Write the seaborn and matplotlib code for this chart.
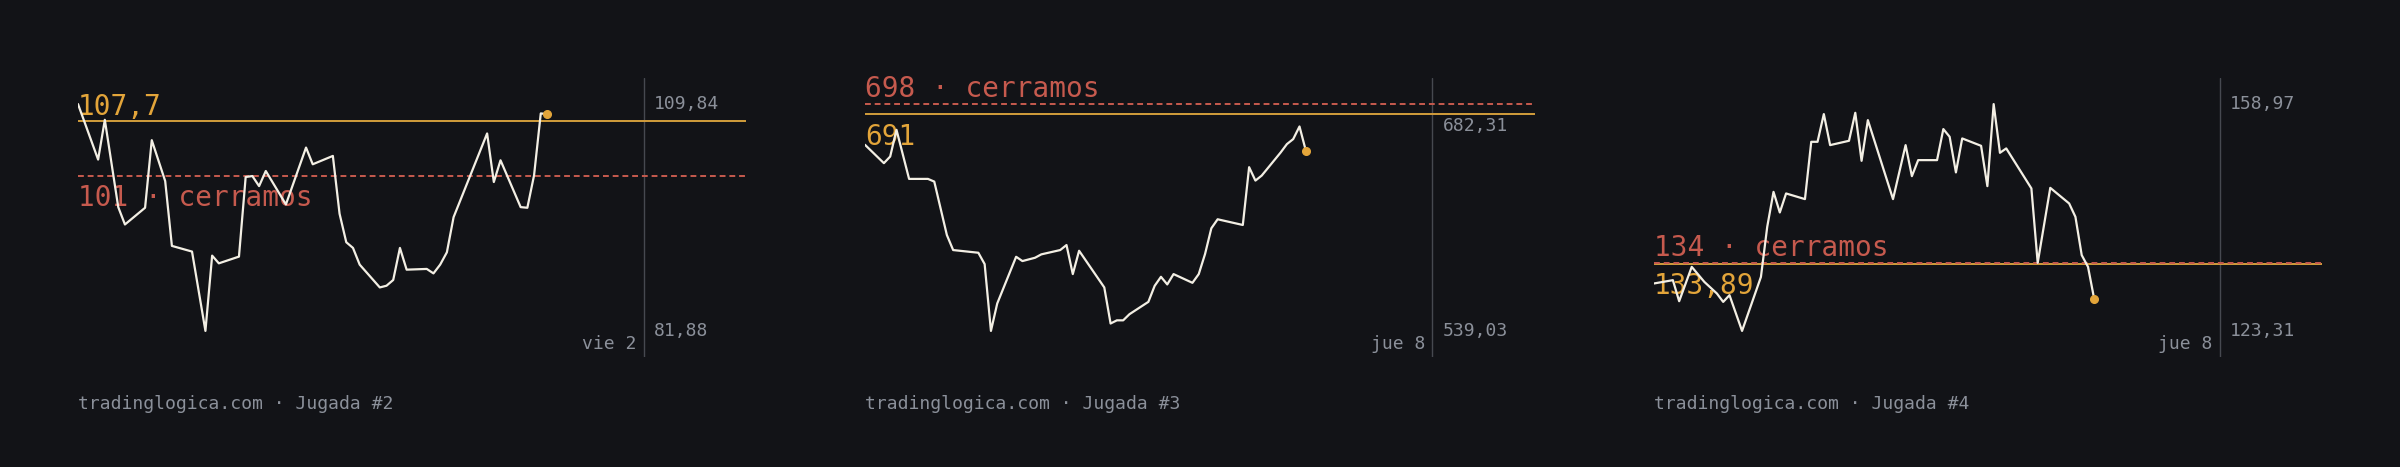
import seaborn as sns
import matplotlib.pyplot as plt
from matplotlib.transforms import blended_transform_factory

# --- data (session index, price) ---
j2_x = [0, 3, 4, 6, 7, 10, 11, 13, 14, 17, 19, 20, 21, 24, 25, 26, 27, 28, 31, 34,
        35, 38, 39, 40, 41, 42, 45, 46, 47, 48, 49, 52, 53, 54, 55, 56, 61, 62, 63, 66,
        67, 68, 69, 70]
j2_y = [109.84, 103.0, 107.9, 97.14, 95.0, 97.06, 105.39, 100.35, 92.36, 91.66,
        81.88, 91.16, 90.21, 91.04, 100.85, 100.97, 99.73, 101.59, 97.47, 104.48,
        102.42, 103.45, 96.32, 92.81, 92.11, 90.05, 87.24, 87.45, 88.16, 92.11,
        89.43, 89.52, 88.97, 90.05, 91.57, 95.90, 106.22, 100.23, 102.91, 97.14,
        97.06, 101.06, 108.69, 108.60]

j3_x = [0, 3, 4, 5, 7, 10, 11, 13, 14, 18, 19, 20, 21, 24, 25, 27, 28, 31, 32, 33,
        34, 38, 39, 40, 41, 42, 45, 46, 47, 48, 49, 52, 53, 54, 55, 56, 60, 61, 62, 63,
        66, 67, 68, 69, 70]
j3_y = [669.46, 656.60, 661.24, 679.99, 645.57, 645.57, 643.68, 606.24, 595.70, 593.81,
        585.87, 539.03, 558.27, 590.99, 587.98, 590.30, 592.68, 595.70, 599.22, 578.85,
        595.21, 569.50, 544.22, 546.44, 546.44, 550.75, 559.39, 570.63, 576.95, 571.61,
        578.85, 572.74, 578.85, 592.90, 610.95, 617.27, 613.27, 653.79, 644.38, 647.89,
        664.05, 669.95, 673.46, 682.31, 665.45]

j4_x = [0, 3, 4, 6, 8, 10, 11, 12, 14, 17, 18, 19, 20, 21, 24, 25, 26, 27, 28, 31,
        32, 33, 34, 38, 40, 41, 42, 45, 46, 47, 48, 49, 52, 53, 54, 55, 56, 60, 61, 63,
        66, 67, 68, 69, 70]
j4_y = [130.77, 131.29, 127.98, 133.38, 131.02, 129.19, 127.87, 128.93, 123.31, 131.80,
        139.67, 145.17, 141.93, 144.92, 144.03, 153.04, 153.04, 157.40, 152.52, 153.20,
        157.60, 150.05, 156.45, 144.03, 152.52, 147.64, 150.16, 150.16, 155.04, 153.83,
        148.23, 153.57, 152.41, 146.07, 158.97, 151.31, 152.00, 145.71, 134.01, 145.80,
        143.35, 141.24, 135.22, 133.38, 128.25]

entry_levels = [107.7, 691, 133.89]      # orange line
close_levels = [101, 698, 134]           # red dashed line, "cerramos"
date_labels = ['vie 2', 'jue 8', 'jue 8']
footers = ['tradinglogica.com · Jugada #2',
           'tradinglogica.com · Jugada #3',
           'tradinglogica.com · Jugada #4']

# --- layout (pixels on a 2400x467 canvas) ---
lefts = [78, 865, 1654]
widths = [668, 670, 668]
spans = [99.6, 106.4, 106.2]
W, H = 2400, 467
TOP, BOTTOM = 78, 357

BG = '#121317'
WHITE = '#f3efe4'
ORANGE = '#e3a53a'
ORANGE_LINE = '#d29d3c'
RED = '#c65a4e'
GRAY = '#8b909a'
VLINE = '#464950'

sns.set_theme(style='dark', rc={'figure.facecolor': BG, 'axes.facecolor': BG})
plt.rcParams['font.family'] = ['DejaVu Sans Mono', 'DejaVu Sans']


def fmt(v):
    return f'{v:g}'.replace('.', ',')


fig = plt.figure(figsize=(24, 4.67), dpi=100)
series = [(j2_x, j2_y), (j3_x, j3_y), (j4_x, j4_y)]

for i, (xs, ys) in enumerate(series):
    ax = fig.add_axes([lefts[i] / W, 1 - BOTTOM / H, widths[i] / W, (BOTTOM - TOP) / H])
    ax.set_facecolor(BG)
    entry, close = entry_levels[i], close_levels[i]
    lo = min(min(ys), entry, close)
    hi = max(max(ys), entry, close)
    pad = (hi - lo) * 0.115
    ax.set_ylim(lo - pad, hi + pad)
    ax.set_xlim(0, spans[i])

    ax.axhline(entry, color=ORANGE_LINE, lw=1.4, zorder=2)
    ax.axhline(close, color=RED, lw=1.4, ls=(0, (3, 2)), zorder=3)
    vx = spans[i] * 0.847
    ax.axvline(vx, color=VLINE, lw=1, zorder=1)

    sns.lineplot(x=xs, y=ys, ax=ax, color=WHITE, lw=1.6, zorder=5)
    ax.plot(xs[-1], ys[-1], 'o', color=ORANGE, ms=5.5, zorder=6)

    trans = blended_transform_factory(ax.transAxes, ax.transData)
    # level labels: upper line gets its label above, lower line below
    entry_txt = fmt(entry)
    close_txt = f'{fmt(close)} · cerramos'
    if entry > close:
        above = (entry, entry_txt, ORANGE)
        below = (close, close_txt, RED)
    else:
        above = (close, close_txt, RED)
        below = (entry, entry_txt, ORANGE)
    ax.annotate(above[1], xy=(0, above[0]), xycoords=trans, xytext=(0, 4.8),
                textcoords='offset points', ha='left', va='baseline',
                fontsize=20, color=above[2], zorder=4)
    ax.annotate(below[1], xy=(0, below[0]), xycoords=trans, xytext=(0, -22),
                textcoords='offset points', ha='left', va='baseline',
                fontsize=20, color=below[2], zorder=4)

    # price scale: max and min of the series
    ax.text(0.862, max(ys), f'{max(ys):.2f}'.replace('.', ','), transform=trans,
            ha='left', va='center', fontsize=13, color=GRAY)
    ax.text(0.862, min(ys), f'{min(ys):.2f}'.replace('.', ','), transform=trans,
            ha='left', va='center', fontsize=13, color=GRAY)
    ax.text(0.8365, 0.0276, date_labels[i], transform=ax.transAxes,
            ha='right', va='baseline', fontsize=13, color=GRAY)
    ax.text(0, -0.1864, footers[i], transform=ax.transAxes,
            ha='left', va='baseline', fontsize=13, color=GRAY)

    ax.set_xticks([])
    ax.set_yticks([])
    ax.set_xlabel('')
    ax.set_ylabel('')
    ax.grid(False)
    for s in ax.spines.values():
        s.set_visible(False)

fig.savefig('out.png', dpi=100, facecolor=BG)
